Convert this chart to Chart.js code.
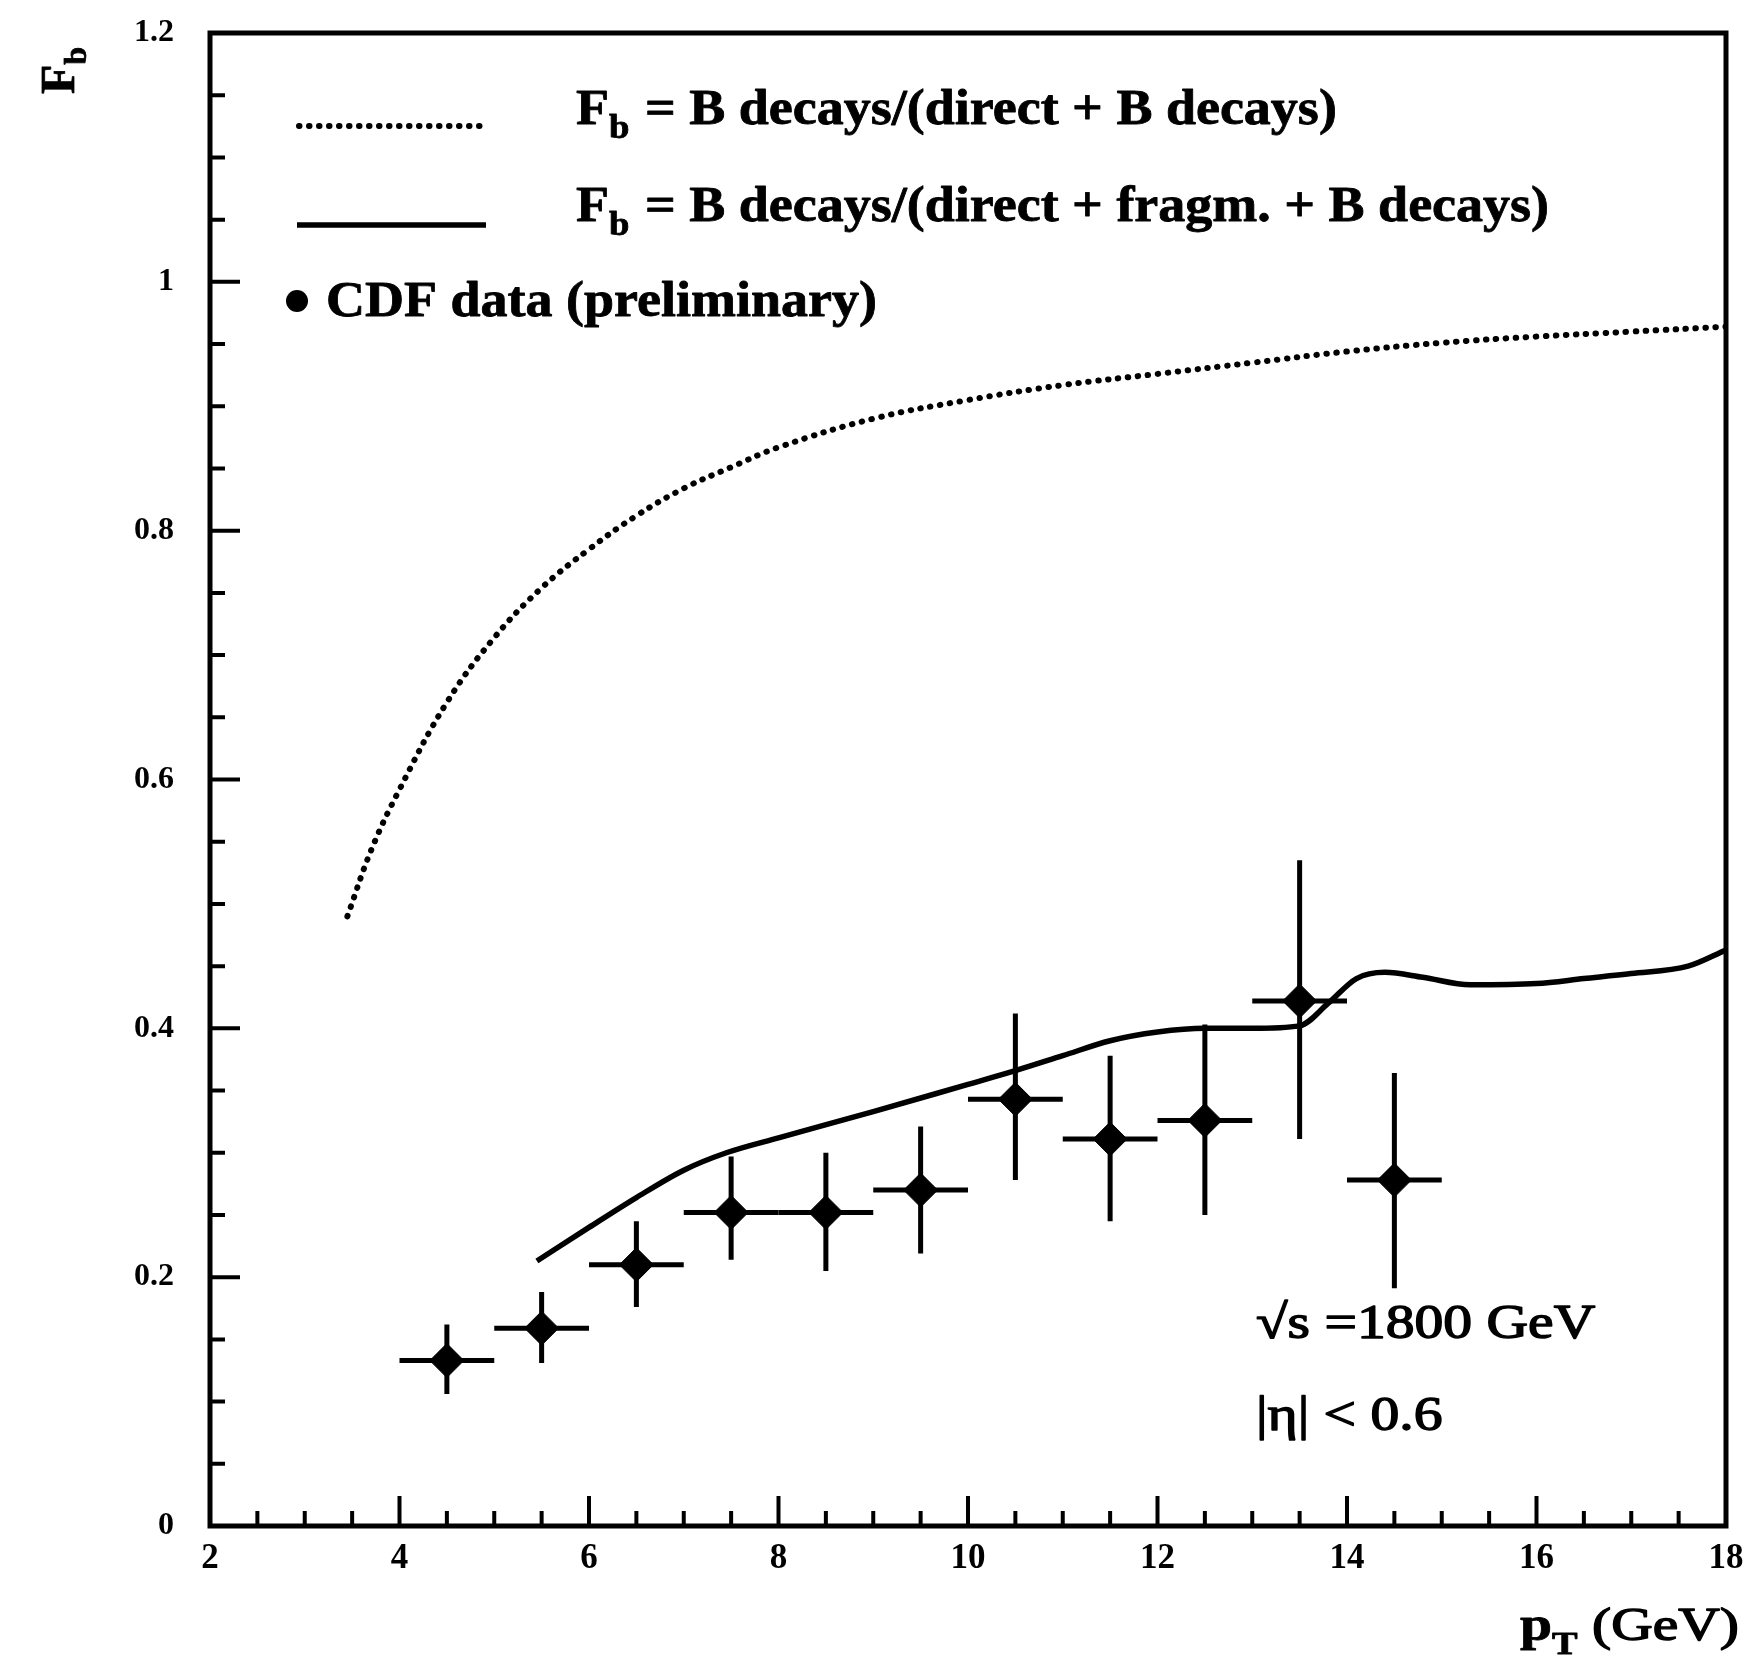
<!DOCTYPE html>
<html>
<head>
<meta charset="utf-8">
<script src="https://cdn.jsdelivr.net/npm/chart.js@4.4.1/dist/chart.umd.min.js"></script>
<style>
  html, body { margin: 0; padding: 0; background: #fff; }
  #box { width: 1759px; height: 1665px; position: relative; }
</style>
</head>
<body>
<div id="box"><canvas id="myChart"></canvas></div>
<script>
// CDF data (preliminary), 1 GeV bins
const ptBins = [4.5, 5.5, 6.5, 7.5, 8.5, 9.5, 10.5, 11.5, 12.5, 13.5, 14.5];
const binHalfWidth = [0.5, 0.5, 0.5, 0.5, 0.5, 0.5, 0.5, 0.5, 0.5, 0.5, 0.5];
const cdfFb   = [0.133, 0.159, 0.210, 0.252, 0.252, 0.270, 0.343, 0.311, 0.326, 0.422, 0.278];
const cdfLow  = [0.106, 0.131, 0.176, 0.214, 0.205, 0.219, 0.278, 0.245, 0.250, 0.311, 0.191];
const cdfHigh = [0.162, 0.188, 0.245, 0.297, 0.300, 0.321, 0.412, 0.378, 0.403, 0.535, 0.364];

// F_b = B decays/(direct + B decays)  (dotted)
const noFragPt = [3.45, 3.7, 4.0, 4.5, 5.0, 5.5, 6.0, 6.5, 7.0, 7.5, 8.0, 9.0, 10, 11, 12, 13, 14, 15, 16, 17, 18];
const noFragFb = [0.49, 0.543, 0.592, 0.662, 0.714, 0.754, 0.785, 0.812, 0.834, 0.851, 0.867, 0.890, 0.905, 0.917, 0.926, 0.935, 0.944, 0.951, 0.956, 0.960, 0.964];

// F_b = B decays/(direct + fragm. + B decays)  (solid)
const fragPt = [5.45, 6.0, 6.5, 7.0, 7.45, 8.0, 9.0, 10.0, 10.5, 11.0, 11.5, 12.0, 12.5, 13.0, 13.5, 13.8, 14.1, 14.4, 14.8, 15.3, 16.0, 16.5, 17.0, 17.6, 18.0];
const fragFb = [0.213, 0.240, 0.264, 0.286, 0.300, 0.312, 0.333, 0.355, 0.366, 0.378, 0.390, 0.397, 0.400, 0.400, 0.402, 0.420, 0.440, 0.445, 0.441, 0.435, 0.436, 0.440, 0.444, 0.450, 0.463];

const xTicks = [2, 4, 6, 8, 10, 12, 14, 16, 18];
const xTickLabels = ['2', '4', '6', '8', '10', '12', '14', '16', '18'];
const yTicks = [0, 0.2, 0.4, 0.6, 0.8, 1.0, 1.2];
const yTickLabels = ['0', '0.2', '0.4', '0.6', '0.8', '1', '1.2'];

const SERIF = '"Liberation Serif", "Times New Roman", serif';

function txt(ctx, s, x, y, size, weight, sx, thick) {
    ctx.save();
    ctx.font = weight + ' ' + size + 'px ' + SERIF;
    ctx.translate(x, y);
    ctx.scale(sx, 1);
    ctx.fillText(s, 0, 0);
    if (thick) {
        ctx.lineWidth = thick;
        ctx.lineJoin = 'round';
        ctx.strokeText(s, 0, 0);
    }
    const w = ctx.measureText(s).width * sx;
    ctx.restore();
    return w;
}

function fbText(ctx, rest, x, y) {
    let cx = x;
    cx += txt(ctx, 'F', cx, y, 50, 'bold', 1.08, 0.8);
    cx += txt(ctx, 'b', cx, y + 14, 34, 'bold', 1.08, 0.8);
    txt(ctx, rest, cx + 2, y, 50, 'bold', 1.08, 0.8);
}

const errorBars = {
    id: 'errorBars',
    afterDatasetsDraw(chart) {
        const { ctx, scales: { x, y } } = chart;
        ctx.save();
        ctx.strokeStyle = '#000';
        ctx.lineWidth = 5;
        ptBins.forEach((pt, i) => {
            const px = x.getPixelForValue(pt);
            const py = y.getPixelForValue(cdfFb[i]);
            ctx.beginPath();
            ctx.moveTo(x.getPixelForValue(pt - binHalfWidth[i]), py);
            ctx.lineTo(x.getPixelForValue(pt + binHalfWidth[i]), py);
            ctx.moveTo(px, y.getPixelForValue(cdfLow[i]));
            ctx.lineTo(px, y.getPixelForValue(cdfHigh[i]));
            ctx.stroke();
        });
        ctx.restore();
    }
};

const frameTicks = {
    id: 'frameTicks',
    afterDraw(chart) {
        const { ctx, chartArea: a, scales: { x, y } } = chart;
        ctx.save();
        ctx.strokeStyle = '#000';
        ctx.lineWidth = 5;
        ctx.strokeRect(a.left, a.top, a.right - a.left, a.bottom - a.top);

        ctx.lineWidth = 4;
        ctx.beginPath();
        // x: minor every 0.5, major every 2
        for (let k = 1; k < 32; k++) {
            const px = x.getPixelForValue(2 + k * 0.5);
            const len = (k % 4 === 0) ? 30 : 15;
            ctx.moveTo(px, a.bottom);
            ctx.lineTo(px, a.bottom - len);
        }
        // y: minor every 0.05, major every 0.2
        for (let k = 1; k < 24; k++) {
            const py = y.getPixelForValue(k * 0.05);
            const len = (k % 4 === 0) ? 30 : 15;
            ctx.moveTo(a.left, py);
            ctx.lineTo(a.left + len, py);
        }
        ctx.stroke();
        ctx.restore();
    }
};

const textLayer = {
    id: 'textLayer',
    afterDraw(chart) {
        const { ctx } = chart;
        ctx.save();
        ctx.fillStyle = '#000';
        ctx.strokeStyle = '#000';
        ctx.textBaseline = 'alphabetic';
        ctx.textAlign = 'left';

        // legend row 1: dotted
        ctx.lineWidth = 6;
        ctx.lineCap = 'round';
        ctx.setLineDash([0.5, 9.5]);
        ctx.beginPath();
        ctx.moveTo(299, 126);
        ctx.lineTo(482, 126);
        ctx.stroke();
        ctx.setLineDash([]);
        fbText(ctx, ' = B decays/(direct + B decays)', 576, 124);

        // legend row 2: solid
        ctx.lineCap = 'butt';
        ctx.lineWidth = 5.5;
        ctx.beginPath();
        ctx.moveTo(297, 225);
        ctx.lineTo(486, 225);
        ctx.stroke();
        fbText(ctx, ' = B decays/(direct + fragm. + B decays)', 576, 221);

        // legend row 3: data
        ctx.beginPath();
        ctx.arc(297, 301, 11, 0, Math.PI * 2);
        ctx.fill();
        txt(ctx, 'CDF data (preliminary)', 326, 316, 50, 'bold', 1.08, 0.8);

        // annotations
        txt(ctx, '\u221As =1800 GeV', 1256, 1338, 48, 'normal', 1.2, 1.4);
        txt(ctx, '|\u03B7| < 0.6', 1256, 1430, 48, 'normal', 1.2, 1.4);

        // x title
        let cx = 1520;
        cx += txt(ctx, 'p', cx, 1640, 48, 'bold', 1.2, 0.8);
        cx += txt(ctx, 'T', cx, 1654, 32, 'bold', 1.2, 0.8);
        txt(ctx, ' (GeV)', cx, 1640, 46, 'normal', 1.25, 1.4);

        // y title
        ctx.translate(74, 94);
        ctx.rotate(-Math.PI / 2);
        const wF = txt(ctx, 'F', 0, 0, 48, 'bold', 1.0, 0.8);
        txt(ctx, 'b', wF, 12, 32, 'bold', 1.0, 0.8);
        ctx.restore();
    }
};

const ctx = document.getElementById('myChart').getContext('2d');
new Chart(ctx, {
    type: 'scatter',
    data: {
        datasets: [
            {
                label: 'no fragm.',
                data: noFragPt.map((x, i) => ({ x: x, y: noFragFb[i] })),
                showLine: true,
                borderColor: '#000',
                borderWidth: 6,
                borderDash: [0.5, 9.5],
                borderCapStyle: 'round',
                pointRadius: 0,
                tension: 0.4,
                fill: false
            },
            {
                label: 'with fragm.',
                data: fragPt.map((x, i) => ({ x: x, y: fragFb[i] })),
                showLine: true,
                borderColor: '#000',
                borderWidth: 5.5,
                pointRadius: 0,
                cubicInterpolationMode: 'monotone',
                fill: false
            },
            {
                label: 'CDF data (preliminary)',
                data: ptBins.map((x, i) => ({ x: x, y: cdfFb[i] })),
                pointStyle: 'rectRot',
                pointRadius: 17,
                backgroundColor: '#000',
                borderColor: '#000',
                borderWidth: 1
            }
        ]
    },
    options: {
        responsive: true,
        maintainAspectRatio: false,
        animation: false,
        layout: { padding: { top: 33, right: 33, left: 0, bottom: 0 } },
        plugins: {
            legend: { display: false },
            tooltip: { enabled: false }
        },
        scales: {
            x: {
                type: 'linear',
                min: 2,
                max: 18,
                afterFit: s => { s.height = 139; s.paddingLeft = 0; s.paddingRight = 0; },
                afterBuildTicks: s => { s.ticks = xTicks.map(v => ({ value: v })); },
                ticks: {
                    callback: (v, i) => xTickLabels[i],
                    color: '#000',
                    font: { family: SERIF, size: 35, weight: 'bold' },
                    padding: 12,
                    maxRotation: 0,
                    autoSkip: false
                },
                grid: { display: false, drawTicks: false },
                border: { display: false }
            },
            y: {
                type: 'linear',
                min: 0,
                max: 1.2,
                afterFit: s => { s.width = 210; s.paddingTop = 0; s.paddingBottom = 0; },
                afterBuildTicks: s => { s.ticks = yTicks.map(v => ({ value: v })); },
                ticks: {
                    callback: (v, i) => yTickLabels[i],
                    color: '#000',
                    font: { family: SERIF, size: 32, weight: 'bold' },
                    padding: 36,
                    autoSkip: false
                },
                grid: { display: false, drawTicks: false },
                border: { display: false }
            }
        }
    },
    plugins: [errorBars, frameTicks, textLayer]
});
</script>
</body>
</html>
